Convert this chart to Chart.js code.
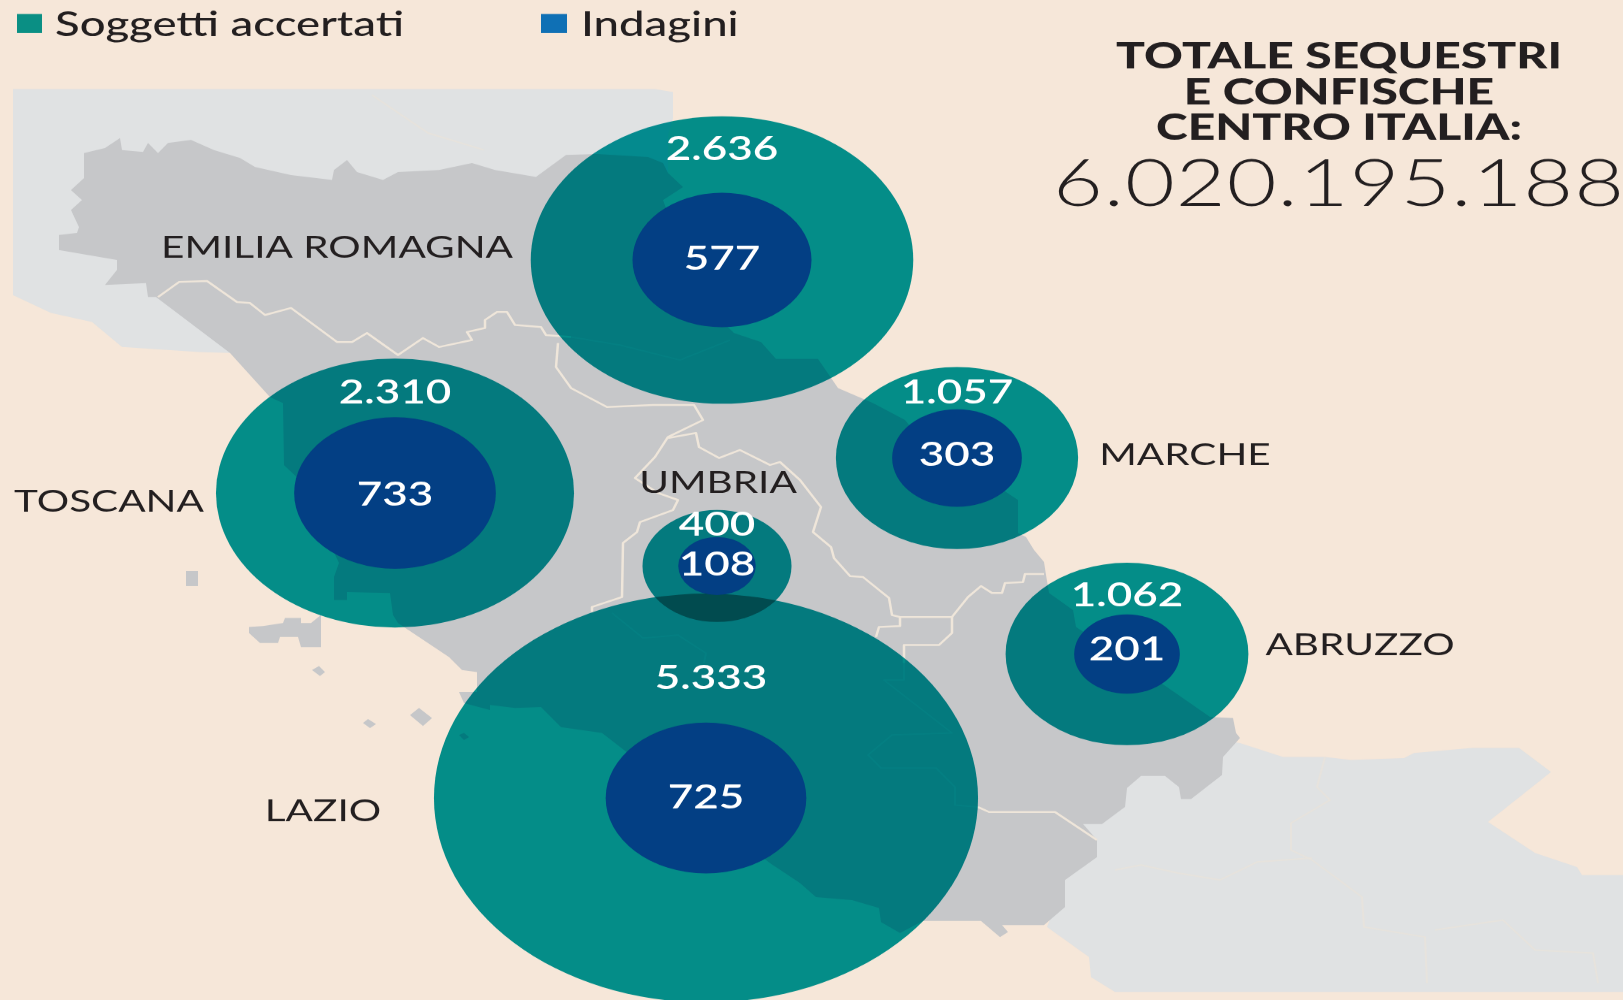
<!DOCTYPE html>
<html lang="it">
<head>
<meta charset="utf-8">
<title>Sequestri e confische Centro Italia</title>
<script src="https://cdn.jsdelivr.net/npm/chart.js@4.4.0/dist/chart.umd.js"></script>
<style>
    html, body { margin: 0; padding: 0; background: #f6e7d9; overflow: hidden; }
    #wrap { width: 1623px; height: 1000px; overflow: hidden; }
    canvas { display: block; }
</style>
</head>
<body>
<div id="wrap"><canvas id="chart" width="1623" height="1331"></canvas></div>
<script>
// the reference is stretched sideways: draw taller, squash with css
const STRETCH = 1.331;

const regions = ['EMILIA ROMAGNA', 'TOSCANA', 'UMBRIA', 'MARCHE', 'ABRUZZO', 'LAZIO'];
const soggetti = [2636, 2310, 400, 1057, 1062, 5333];
const indagini = [577, 733, 108, 303, 201, 725];
const bubbleX = [722, 395, 717, 957, 1127, 706];
const bubbleY = [260, 493, 566, 458, 654, 798];
const seriesNames = ['Soggetti accertati', 'Indagini'];
const legendColors = ['#0a8f84', '#0f70b5'];
const titleLines = ['TOTALE SEQUESTRI', 'E CONFISCHE', 'CENTRO ITALIA:'];
const totale = '6.020.195.188';

// map background, in picture coordinates
const mapNorth = [[13,89],[655,89],[673,92],[673,118],[668,135],[668,175],[600,300],[230,353],[199,352],[122,347],[92,322],[51,313],[13,295]];
const mapSouth = [[1240,743],[1283,757],[1325,757],[1351,760],[1404,758],[1414,753],[1472,748],[1519,748],[1551,772],[1488,822],[1535,853],[1577,867],[1582,875],[1623,875],[1623,992],[1115,992],[1091,977],[1089,957],[1047,927],[1065,880],[1083,824],[1125,765],[1165,765],[1222,740]];
const mapCentre = [[84,153],[105,148],[120,138],[122,150],[143,152],[148,143],[158,153],[168,143],[191,140],[214,150],[240,158],[255,167],[291,175],[332,180],[334,170],[347,160],[357,172],[383,180],[398,172],[439,170],[472,163],[495,170],[536,177],[566,155],[597,154],[648,157],[663,163],[668,173],[683,187],[663,200],[700,300],[734,333],[761,342],[776,359],[818,359],[838,388],[873,403],[905,420],[913,430],[1018,500],[1018,533],[1026,537],[1034,550],[1044,562],[1046,575],[1049,593],[1073,610],[1076,627],[1167,687],[1210,717],[1233,718],[1236,733],[1240,738],[1223,757],[1222,775],[1191,799],[1181,799],[1179,787],[1165,776],[1141,776],[1127,788],[1125,807],[1102,824],[1083,824],[1097,840],[1097,857],[1065,880],[1065,907],[1044,925],[1002,925],[1008,932],[1000,937],[981,921],[923,921],[900,933],[881,922],[879,908],[852,900],[816,897],[800,883],[770,863],[602,733],[561,727],[541,707],[515,708],[490,705],[490,710],[464,703],[459,692],[477,692],[477,672],[462,670],[449,657],[398,623],[393,615],[390,593],[347,592],[347,600],[334,600],[334,577],[339,563],[300,480],[284,465],[283,403],[270,397],[230,353],[156,297],[148,297],[146,283],[105,285],[117,270],[117,260],[59,250],[59,235],[77,233],[79,227],[71,210],[82,200],[71,190],[84,178]];
const islands = [
    [[186,571],[198,571],[198,586],[186,586]],
    [[249,627],[263,626],[283,623],[285,618],[301,618],[301,623],[311,623],[321,615],[321,647],[301,647],[298,637],[280,637],[278,643],[260,643],[249,633]],
    [[312,670],[319,666],[325,672],[320,676]],
    [[363,723],[368,719],[376,724],[370,728]],
    [[410,715],[419,708],[432,718],[423,726]],
    [[459,735],[464,733],[469,737],[464,740]],
];
const borders = [
    [[158,297],[179,282],[207,281],[237,302],[250,303],[265,315],[291,308],[337,342],[352,342],[367,333],[398,355],[423,338],[439,347],[472,340],[467,332],[485,328],[485,320],[497,312],[507,312],[515,325],[541,327],[546,335],[571,337]],
    [[558,343],[556,367],[571,388],[607,407],[653,405],[694,405],[703,420],[668,437],[655,457],[635,478],[658,493],[678,500],[673,510],[640,522],[637,532],[623,543],[622,597],[592,607],[592,612]],
    [[668,438],[696,433],[699,447],[719,458],[740,450],[770,465],[780,462],[800,480],[821,507],[813,532],[831,547],[834,558],[850,576],[863,577],[889,598],[892,615],[900,617],[952,617],[968,597],[981,586],[992,593],[1002,593],[1005,583],[1023,582],[1025,574],[1044,574]],
    [[900,617],[900,626],[879,627],[876,637]],
    [[952,617],[952,633],[939,645],[904,645],[904,663]],
    [[978,807],[989,812],[1055,812],[1097,840]],
];
// these run under the big circles, so they barely show
const hiddenBorders = [
    [[571,337],[620,345],[680,360],[730,340]],
    [[904,663],[904,680],[884,680],[952,733],[892,735],[868,755],[881,768],[936,768],[955,787],[955,805],[978,807]],
    [[612,613],[643,638],[678,635],[706,653],[704,663]],
];
const faintBorders = [
    [[372,95],[428,133],[484,150]],
    [[1325,757],[1317,787],[1330,800],[1291,823],[1291,850],[1312,860],[1362,897],[1364,927],[1425,937],[1427,983]],
    [[1115,870],[1141,865],[1178,873],[1220,880],[1257,862],[1312,858]],
    [[1435,930],[1503,920],[1535,950],[1593,953],[1598,983]],
];

// label placement in picture coordinates, same order as regions
const regionLabelX = [337, 109, 718, 1185, 1360, 323];
const regionLabelY = [248, 502, 483, 455, 645, 811];
const soggettiLabelX = [722, 395, 717, 957, 1127, 711];
const soggettiLabelY = [149, 393, 525, 393, 596, 678];
const indaginiLabelY = [259, 495, 565, 455, 650, 798];

const RADIUS_K = 3.725; // bubble area follows the value

function points(values) {
    return values.map((v, i) => ({ x: bubbleX[i], y: bubbleY[i], r: RADIUS_K * Math.sqrt(v) }));
}

function tracePath(chart, pts, close) {
    const { ctx, scales: { x, y } } = chart;
    ctx.beginPath();
    pts.forEach(([px, py], i) => {
        const fx = x.getPixelForValue(px), fy = y.getPixelForValue(py);
        if (i === 0) ctx.moveTo(fx, fy); else ctx.lineTo(fx, fy);
    });
    if (close) ctx.closePath();
}

function label(chart, text, px, py, font, color, spacing) {
    const { ctx, scales: { x, y } } = chart;
    ctx.font = font;
    ctx.fillStyle = color;
    ctx.letterSpacing = spacing || '0px';
    ctx.fillText(text, x.getPixelForValue(px), y.getPixelForValue(py));
}

const mapPlugin = {
    id: 'mapBackground',
    beforeDatasetsDraw(chart) {
        const { ctx } = chart;
        ctx.save();
        ctx.fillStyle = '#f6e7d9';
        ctx.fillRect(0, 0, chart.width, chart.height);
        ctx.fillStyle = '#e0e2e3';
        [mapNorth, mapSouth].forEach((p) => { tracePath(chart, p, true); ctx.fill(); });
        ctx.strokeStyle = '#e7e3dd';
        ctx.lineWidth = 2;
        ctx.lineJoin = 'round';
        faintBorders.forEach((p) => { tracePath(chart, p, false); ctx.stroke(); });
        ctx.fillStyle = '#c6c7c9';
        tracePath(chart, mapCentre, true); ctx.fill();
        islands.forEach((p) => { tracePath(chart, p, true); ctx.fill(); });
        ctx.strokeStyle = '#cfd0d0';
        hiddenBorders.forEach((p) => { tracePath(chart, p, false); ctx.stroke(); });
        ctx.strokeStyle = '#efe6da';
        ctx.lineWidth = 2.5;
        borders.forEach((p) => { tracePath(chart, p, false); ctx.stroke(); });
        ctx.restore();
    },
    // the teal circles darken whatever is under them
    beforeDatasetDraw(chart, args) {
        if (args.index === 0) chart.ctx.globalCompositeOperation = 'multiply';
    },
    afterDatasetDraw(chart) {
        chart.ctx.globalCompositeOperation = 'source-over';
    },
    afterDatasetsDraw(chart) {
        const { ctx, scales: { x, y } } = chart;
        const ink = '#231f20';
        ctx.save();
        ctx.textBaseline = 'middle';

        // legend
        ctx.textAlign = 'left';
        ctx.fillStyle = legendColors[0];
        ctx.fillRect(x.getPixelForValue(17), y.getPixelForValue(14), 25, 19 * STRETCH);
        ctx.fillStyle = legendColors[1];
        ctx.fillRect(x.getPixelForValue(541), y.getPixelForValue(14), 26, 19 * STRETCH);
        label(chart, seriesNames[0], 55, 25, '500 45.5px Lato', ink);
        label(chart, seriesNames[1], 581, 25, '500 45.5px Lato', ink);

        // region names
        ctx.textAlign = 'center';
        regions.forEach((r, i) => {
            label(chart, r, regionLabelX[i], regionLabelY[i], '400 40.5px Lato', ink);
        });

        // values inside the circles
        soggetti.forEach((v, i) => {
            label(chart, v.toLocaleString('de-DE'), soggettiLabelX[i], soggettiLabelY[i], '600 44px Lato', '#ffffff');
        });
        indagini.forEach((v, i) => {
            label(chart, String(v), bubbleX[i], indaginiLabelY[i], '600 44px Lato', '#ffffff');
        });

        // total
        titleLines.forEach((t, i) => {
            label(chart, t, 1339, 57 + i * 35.7, '900 48px Lato', ink);
        });
        label(chart, totale, 1339, 185, '300 86px Lato', ink, '1px');
        ctx.restore();
    },
};

const chart = new Chart(document.getElementById('chart'), {
    type: 'bubble',
    data: {
        datasets: [
            { label: seriesNames[0], data: points(soggetti), backgroundColor: 'rgb(4, 156, 160)', borderWidth: 0, order: 2 },
            { label: seriesNames[1], data: points(indagini), backgroundColor: '#033f84', borderWidth: 0, order: 1 },
        ],
    },
    options: {
        responsive: false,
        animation: false,
        events: [],
        layout: { padding: 0, autoPadding: false },
        plugins: { legend: { display: false }, tooltip: { enabled: false } },
        scales: {
            x: { type: 'linear', min: 0, max: 1623, display: false },
            y: { type: 'linear', min: 0, max: 1000, reverse: true, display: false },
        },
    },
    plugins: [mapPlugin],
});
chart.canvas.style.width = '1623px';
chart.canvas.style.height = '1000px';
</script>
</body>
</html>
